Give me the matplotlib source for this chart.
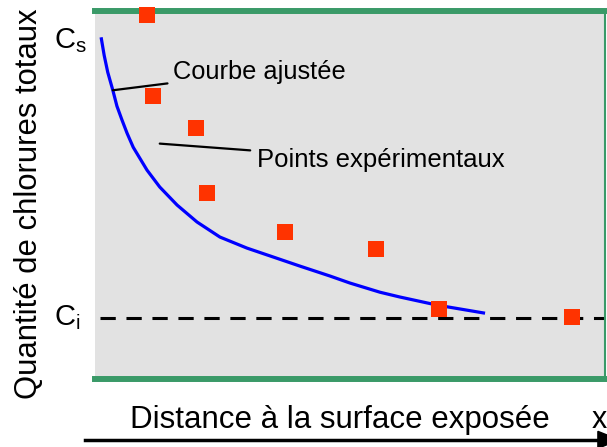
import matplotlib.pyplot as plt

plt.rcParams['font.family'] = ['Liberation Sans', 'DejaVu Sans']
plt.rcParams['mathtext.fontset'] = 'custom'
plt.rcParams['mathtext.rm'] = 'Liberation Sans'

# points expérimentaux
exp_x = [1.02, 1.14, 1.98, 2.20, 3.73, 5.51, 6.75, 9.35]
exp_y = [9.89, 7.69, 6.82, 5.05, 3.99, 3.53, 1.90, 1.68]

# courbe ajustée
fit_x = [0.12, 0.18, 0.25, 0.35, 0.43, 0.53, 0.63, 0.75, 1.02, 1.27, 1.61,
         2.00, 2.45, 2.98, 3.49, 4.02, 4.61, 5.00, 5.59, 5.98, 6.71, 7.65]
fit_y = [9.29, 8.80, 8.34, 7.85, 7.42, 7.04, 6.68, 6.30, 5.68, 5.22, 4.73,
         4.27, 3.86, 3.56, 3.32, 3.07, 2.80, 2.61, 2.36, 2.23, 2.01, 1.79]

c_i = 1.66
c_s = 9.21

green = '#3a9a68'

fig = plt.figure(figsize=(6.07, 4.47), dpi=100)
ax = fig.add_axes([0.1565, 0.152, 0.84, 0.823])
ax.set_facecolor('#e2e2e2')
ax.set_xlim(0, 10)
ax.set_ylim(0, 10)
ax.set_xticks([])
ax.set_yticks([])

ax.spines['left'].set_visible(False)
ax.spines['top'].set_color(green)
ax.spines['top'].set_linewidth(4.3)
ax.spines['bottom'].set_color(green)
ax.spines['bottom'].set_linewidth(4.3)
ax.spines['right'].set_color(green)
ax.spines['right'].set_linewidth(1.5)

ax.plot([0.1, 10], [c_i, c_i], color='black', lw=2.2, dashes=(5, 3.5), zorder=2)
ax.plot(fit_x, fit_y, color='#0000ff', lw=2.3, zorder=3, solid_capstyle='butt',
        solid_joinstyle='round')
ax.plot(exp_x, exp_y, 's', color='#ff3300', markersize=11.5, markeredgewidth=0,
        zorder=4, clip_on=False)

ax.annotate('Courbe ajustée', xy=(0.35, 7.85), xytext=(1.53, 8.35),
            fontsize=18.3, va='center', ha='left',
            arrowprops=dict(arrowstyle='-', color='black', lw=1.6,
                            shrinkA=2, shrinkB=0))
ax.annotate('Points expérimentaux', xy=(1.27, 6.4), xytext=(3.18, 5.95),
            fontsize=18.5, va='center', ha='left',
            arrowprops=dict(arrowstyle='-', color='black', lw=1.6,
                            shrinkA=3, shrinkB=0))

ax.text(-0.8, c_s, r'C$_{\mathrm{s}}$', fontsize=21, ha='left', va='center')
ax.text(-0.8, c_i, r'C$_{\mathrm{i}}$', fontsize=21, ha='left', va='center')

fig.text(0.048, 0.545, 'Quantité de chlorures totaux', rotation=90, fontsize=22.3,
         ha='center', va='center')
fig.text(0.56, 0.06, 'Distance à la surface exposée', fontsize=22.5,
         ha='center', va='center')
fig.text(0.975, 0.06, 'x', fontsize=22, ha='left', va='center')

fig.add_artist(plt.Line2D([0.14, 1.0], [0.016, 0.016], color='black', lw=2.5,
                          transform=fig.transFigure))
fig.patches.append(plt.Polygon([[0.985, 0.035], [1.02, 0.016], [0.985, -0.003]],
                               closed=True, color='black',
                               transform=fig.transFigure, figure=fig))

fig.savefig('out.png', dpi=100)
